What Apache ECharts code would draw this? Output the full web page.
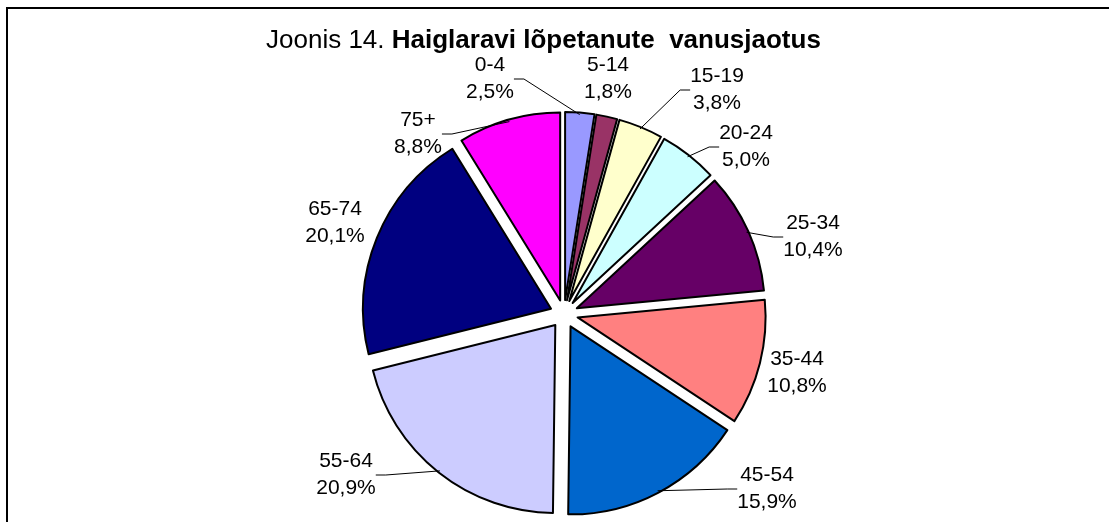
<!DOCTYPE html>
<html>
<head>
<meta charset="utf-8">
<script src="https://cdn.jsdelivr.net/npm/echarts@6/dist/echarts.min.js"></script>
<style>
html,body{margin:0;padding:0;background:#fff;}
#wrap{position:relative;width:1109px;height:522px;overflow:hidden;}
#frame{position:absolute;left:6px;top:7px;width:1200px;height:600px;border-left:2px solid #000;border-top:2px solid #000;box-sizing:border-box;}
#chart{position:absolute;left:0;top:0;width:1109px;height:522px;}
</style>
</head>
<body>
<div id="wrap"><div id="frame"></div><div id="chart"></div></div>
<script>
// Data
var categories = ['0-4','5-14','15-19','20-24','25-34','35-44','45-54','55-64','65-74','75+'];
var shares = [2.5, 1.8, 3.8, 5.0, 10.4, 10.8, 15.9, 20.9, 20.1, 8.8];
var colors = ['#9999FF','#993366','#FFFFCC','#CCFFFF','#660066','#FF8080','#0066CC','#CCCCFF','#000080','#FF00FF'];
// label placement (text centre) and whether a leader line is drawn
var labelX = [490, 608, 717, 746, 813, 797, 767, 346, 335, 418];
var labelY = [79, 79, 90, 147, 237, 373, 489, 475, 223, 134];
var labelLineShown = [true, false, true, true, true, false, true, true, false, true];

var chart = echarts.init(document.getElementById('chart'), null, {renderer:'canvas'});

var pieData = categories.map(function(c, i){
  return {name: c, value: shares[i], selected: true, itemStyle: {color: colors[i]}};
});
var labelData = categories.map(function(c, i){
  return {name: c, value: shares[i], labelLine: {show: labelLineShown[i]}};
});

chart.setOption({
  animation: false,
  backgroundColor: 'transparent',
  title: {
    text: '{n|Joonis 14. }{b|Haiglaravi lõpetanute  vanusjaotus}',
    left: 261,
    top: 23,
    textStyle: {
      rich: {
        n: {fontFamily: 'Liberation Sans', fontSize: 26, fontWeight: 'normal', color: '#000'},
        b: {fontFamily: 'Liberation Sans', fontSize: 26, fontWeight: 'bold', color: '#000'}
      }
    }
  },
  series: [{
    type: 'pie',
    center: [564, 314],
    radius: 188,
    startAngle: 90,
    clockwise: true,
    selectedMode: 'multiple',
    selectedOffset: 14,
    silent: true,
    itemStyle: {borderColor: '#000', borderWidth: 2},
    select: {itemStyle: {borderColor: '#000', borderWidth: 2}},
    emphasis: {disabled: true},
    label: {show: false},
    labelLine: {show: false},
    data: pieData
  }, {
    type: 'pie',
    center: [564, 314],
    radius: 200,
    startAngle: 90,
    clockwise: true,
    selectedMode: false,
    silent: true,
    z: 3,
    itemStyle: {color: 'rgba(0,0,0,0)', borderWidth: 0},
    emphasis: {disabled: true},
    label: {
      show: true,
      position: 'outside',
      fontFamily: 'Liberation Sans',
      fontSize: 21,
      lineHeight: 27,
      color: '#000',
      align: 'center',
      formatter: function(p){
        return p.name + '\n' + p.value.toFixed(1).replace('.', ',') + '%';
      }
    },
    labelLine: {show: true, length: 10, length2: 10, lineStyle: {color: '#000', width: 1}},
    labelLayout: function(p){
      var i = p.dataIndex;
      return {x: labelX[i], y: labelY[i], align: 'center', verticalAlign: 'middle'};
    },
    data: labelData
  }]
});
</script>
</body>
</html>
